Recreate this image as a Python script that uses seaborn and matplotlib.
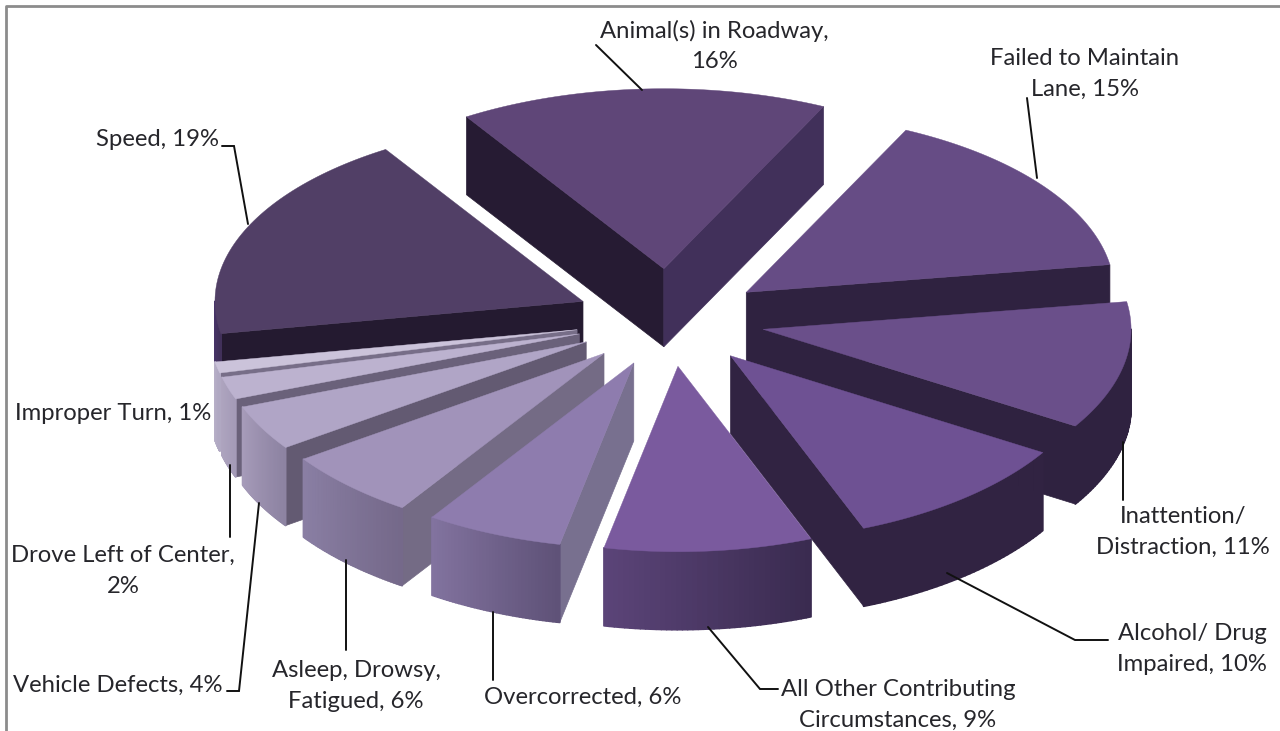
import matplotlib
matplotlib.use("Agg")
import matplotlib.pyplot as plt
import numpy as np
import seaborn as sns
from matplotlib.collections import PolyCollection

# values run clockwise, starting with the slice at 12 o'clock
causes = ["Animal(s) in Roadway", "Failed to Maintain Lane", "Inattention/Distraction",
          "Alcohol/Drug Impaired", "All Other Contributing Circumstances", "Overcorrected",
          "Asleep, Drowsy, Fatigued", "Vehicle Defects", "Drove Left of Center",
          "Improper Turn", "Speed"]
shares = [16, 15, 11, 10, 9, 6, 6, 4, 2, 1, 19]

label_texts = ["Animal(s) in Roadway,\n16%", "Failed to Maintain\nLane, 15%",
               "Inattention/\nDistraction, 11%", "Alcohol/ Drug\nImpaired, 10%",
               "All Other Contributing\nCircumstances, 9%", "Overcorrected, 6%",
               "Asleep, Drowsy,\nFatigued, 6%", "Vehicle Defects, 4%",
               "Drove Left of Center,\n2%", "Improper Turn, 1%", "Speed, 19%"]

top_colors = ["#5f4678", "#664c85", "#6a4f8a", "#6e5193", "#7a5a9e", "#8e7cae",
              "#a193ba", "#b0a5c6", "#bcb2cf", "#cbc3da", "#513f66"]
side_colors = ["#41305a", "#2f2240", "#2f2240", "#312342", "#312342", "#78708f",
               "#746b85", "#635a72", "#6a617a", "#776e88", "#241a30"]
start_face_colors = ["#261b33", "#2f2240", "#2f2240", "#312342", "#312342", "#78708f",
                     "#746b85", "#635a72", "#6a617a", "#776e88", "#241a30"]
arc_left = ["#41305a", "#2f2240", "#2f2240", "#312342", "#5b4478", "#82739f",
            "#8a7fa4", "#a79cba", "#aea5bf", "#b8b0c8", "#4a3570"]
arc_right = ["#41305a", "#2f2240", "#2f2240", "#312342", "#3a2b50", "#5f5278",
             "#75698a", "#8d83a2", "#a59bb8", "#b0a8c2", "#41305a"]

# layout in pixels
CX, CY = 670, 320
RX, RY = 368, 180
DEPTH = 78
START = -31.4
FRONT_STRETCH = 0.03
explode = [105, 95, 95, 95, 95, 95, 95, 95, 95, 95, 95]

label_xy = [(714, 46), (1085, 74), (1183, 532), (1192, 649), (898, 705), (583, 697),
            (356, 686), (118, 685), (123, 571), (113, 413), (157, 140)]
leaders = [[(596, 45), (642, 90)],
           [(1027, 98), (1037, 178)],
           [(1123, 442), (1123, 500)],
           [(947, 573), (1075, 640), (1108, 640)],
           [(708, 627), (760, 689), (778, 689)],
           [(493, 612), (493, 680)],
           [(346, 560), (346, 650)],
           [(227, 691), (239, 691), (259, 503)],
           [(230, 465), (230, 537)],
           [],
           [(222, 146), (234, 146), (248, 224)]]


def project(theta, radius, ox, oy, stretch=0.0):
    """Clockwise angle from 12 o'clock (deg) to a screen position."""
    t = np.radians(theta)
    near = 1 + stretch * np.clip(-np.cos(t), 0, None)
    return ox + radius * np.sin(t) * RX / 368, oy - radius * np.cos(t) * near * RY / 368


def draw_slice(ax, t0, t1, idx, z):
    mid = (t0 + t1) / 2
    ox, oy = project(mid, explode[idx], CX, CY)

    # radial side faces, only where they turn towards the viewer
    for theta, color, visible in ((t0, start_face_colors[idx], np.sin(np.radians(t0)) < 0),
                                  (t1, side_colors[idx], np.sin(np.radians(t1)) > 0)):
        if visible:
            x, y = project(theta, 368, ox, oy, FRONT_STRETCH)
            ax.fill([ox, x, x, ox], [oy, y, y + DEPTH, oy + DEPTH],
                    color=color, lw=0.5, zorder=z)

    # outer rim, front half only, with a left to right shade
    lo, hi = max(t0, 90), min(t1, 270)
    if hi > lo:
        angles = np.linspace(hi, lo, 41)
        xs, ys = project(angles, 368, ox, oy, FRONT_STRETCH)
        quads = [[(xs[i], ys[i]), (xs[i + 1], ys[i + 1]),
                  (xs[i + 1], ys[i + 1] + DEPTH), (xs[i], ys[i] + DEPTH)]
                 for i in range(len(angles) - 1)]
        shades = sns.blend_palette([arc_left[idx], arc_right[idx]], len(quads))
        ax.add_collection(PolyCollection(quads, facecolors=shades, edgecolors=shades,
                                         linewidths=1.2, zorder=z + 0.1))

    # top face
    angles = np.linspace(t0, t1, 60)
    xs, ys = project(angles, 368, ox, oy, FRONT_STRETCH)
    ax.fill(np.r_[ox, xs], np.r_[oy, ys], color=top_colors[idx], lw=0.3, zorder=z + 0.2)


sns.set_theme(style="white")
plt.rcParams["font.family"] = ["Lato", "DejaVu Sans"]

fig, ax = plt.subplots(figsize=(12.8, 7.31), dpi=100)
fig.subplots_adjust(0, 0, 1, 1)
ax.set_xlim(0, 1280)
ax.set_ylim(731, 0)
ax.axis("off")

# frame, open on the right and at the bottom
ax.plot([6, 6, 1280], [731, 6, 6], color="#8c8c8c", lw=2, zorder=0)

edges = START + np.cumsum(np.r_[0, shares]) * 360 / np.sum(shares)
# the 3D view squeezes the far side a little
edges = edges - 1.2 * np.cos(np.radians(edges))
mids = (edges[:-1] + edges[1:]) / 2

# painter's order: far slices first
order = np.argsort(-np.cos(np.radians(mids)))
for rank, idx in enumerate(order):
    draw_slice(ax, edges[idx], edges[idx + 1], idx, 2 + rank)

for pts in leaders:
    if pts:
        ax.plot(*zip(*pts), color="#111111", lw=1.4, zorder=30, solid_joinstyle="miter")

for text, (x, y) in zip(label_texts, label_xy):
    ax.text(x, y, text, ha="center", va="center", fontsize=17.2, color="#26262b",
            linespacing=1.55, zorder=31)

fig.savefig("out.png", dpi=100)
